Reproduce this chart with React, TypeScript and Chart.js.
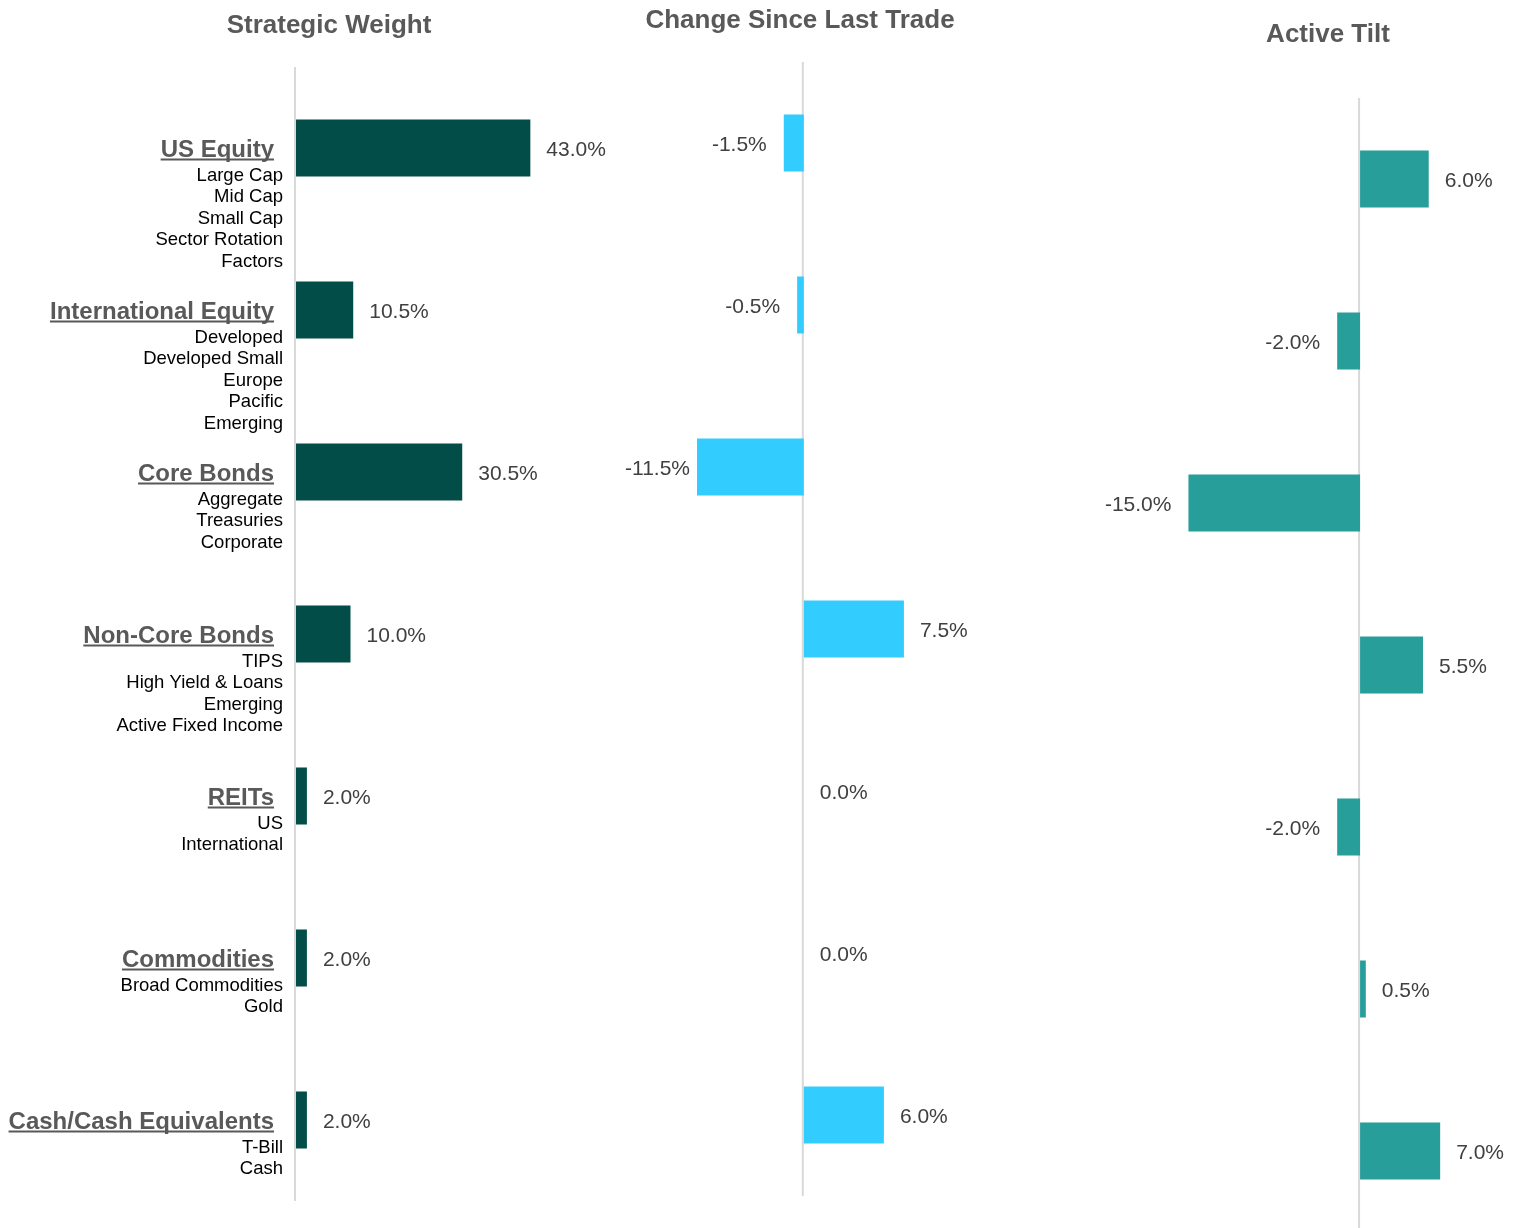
import React, { useEffect, useRef } from "react";
import { Chart, registerables } from "chart.js";

Chart.register(...registerables);

// ---------- DATA ----------
const categories = [
  "US Equity",
  "International Equity",
  "Core Bonds",
  "Non-Core Bonds",
  "REITs",
  "Commodities",
  "Cash/Cash Equivalents",
];

const subItems = [
  ["Large Cap", "Mid Cap", "Small Cap", "Sector Rotation", "Factors"],
  ["Developed", "Developed Small", "Europe", "Pacific", "Emerging"],
  ["Aggregate", "Treasuries", "Corporate"],
  ["TIPS", "High Yield & Loans", "Emerging", "Active Fixed Income"],
  ["US", "International"],
  ["Broad Commodities", "Gold"],
  ["T-Bill", "Cash"],
];

const strategicWeight = [43.0, 10.5, 30.5, 10.0, 2.0, 2.0, 2.0];
const changeSinceLastTrade = [-1.5, -0.5, -11.5, 7.5, 0.0, 0.0, 6.0];
const activeTilt = [6.0, -2.0, -15.0, 5.5, -2.0, 0.5, 7.0];

const panelTitles = ["Strategic Weight", "Change Since Last Trade", "Active Tilt"];

// ---------- STYLE / LAYOUT ----------
const FONT = "'Liberation Sans', Arial, Helvetica, sans-serif";
const W = 1520;
const H = 1228;

type Panel = {
  title: string;
  values: number[];
  color: string;
  min: number;
  max: number;
  canvasH: number;
  padding: { left: number; right: number; top: number; bottom: number };
  titleX: number;
  titleY: number;
  drawCategories: boolean;
};

const panels: Panel[] = [
  {
    title: panelTitles[0],
    values: strategicWeight,
    color: "#024D48",
    min: 0,
    max: 60,
    canvasH: H,
    padding: { left: 296, right: 897, top: 67, bottom: 27 },
    titleX: 329,
    titleY: 24,
    drawCategories: true,
  },
  {
    title: panelTitles[1],
    values: changeSinceLastTrade,
    color: "#33CCFF",
    min: -8,
    max: 12,
    canvasH: H,
    padding: { left: 697, right: 556, top: 62, bottom: 32 },
    titleX: 800,
    titleY: 19,
    drawCategories: false,
  },
  {
    title: panelTitles[2],
    values: activeTilt,
    color: "#289E9B",
    min: -16,
    max: 10,
    canvasH: 1240,
    padding: { left: 1177, right: 45.5, top: 98, bottom: 8 },
    titleX: 1328,
    titleY: 33,
    drawCategories: false,
  },
];

function makePlugin(panel: Panel) {
  return {
    id: "customDraw",
    beforeDatasetsDraw(chart: any) {
      const { ctx, chartArea } = chart;
      const x0 = chart.scales.x.getPixelForValue(0);
      ctx.save();
      ctx.strokeStyle = "#D9D9D9";
      ctx.lineWidth = 2;
      ctx.beginPath();
      ctx.moveTo(x0 - 1, chartArea.top);
      ctx.lineTo(x0 - 1, chartArea.bottom);
      ctx.stroke();
      ctx.restore();
    },
    afterDatasetsDraw(chart: any) {
      const { ctx, chartArea } = chart;
      const xs = chart.scales.x;
      const ys = chart.scales.y;
      const x0 = xs.getPixelForValue(0);
      ctx.save();
      // title
      ctx.font = `bold 26px ${FONT}`;
      ctx.fillStyle = "#595959";
      ctx.textAlign = "center";
      ctx.textBaseline = "alphabetic";
      ctx.fillText(panel.title, panel.titleX, panel.titleY + 9);

      // value labels
      const meta = chart.getDatasetMeta(0);
      ctx.font = `21px ${FONT}`;
      ctx.fillStyle = "#404040";
      meta.data.forEach((el: any, i: number) => {
        const v = panel.values[i];
        const y = ys.getPixelForValue(i);
        const txt = v.toFixed(1) + "%";
        if (v >= 0) {
          const xe = Math.min(Math.max(el.x, x0), chartArea.right);
          ctx.textAlign = "left";
          ctx.fillText(txt, xe + 16, y + 7.5);
        } else {
          ctx.textAlign = "right";
          const xe = el.x < chartArea.left ? chartArea.left - 7 : el.x - 17;
          ctx.fillText(txt, xe, y + 7.5);
        }
      });

      // category labels
      if (panel.drawCategories) {
        categories.forEach((cat, i) => {
          const y = ys.getPixelForValue(i);
          ctx.font = `bold 24px ${FONT}`;
          ctx.fillStyle = "#595959";
          ctx.textAlign = "right";
          const rx = 274;
          const base = y + 8.5;
          ctx.fillText(cat, rx, base);
          const w = ctx.measureText(cat).width;
          ctx.fillRect(rx - w, base + 2, w, 2);
          ctx.font = `18.5px ${FONT}`;
          ctx.fillStyle = "#000000";
          subItems[i].forEach((s, j) => {
            ctx.fillText(s, 283, y + 26 + 6.5 + j * 21.5);
          });
        });
      }
      ctx.restore();
    },
  };
}

function BarPanel({ panel }: { panel: Panel }) {
  const ref = useRef<HTMLCanvasElement | null>(null);
  useEffect(() => {
    if (!ref.current) return;
    const chart = new Chart(ref.current, {
      type: "bar",
      data: {
        labels: categories,
        datasets: [
          {
            data: panel.values,
            backgroundColor: panel.color,
            borderWidth: 0,
            barPercentage: 0.352,
            categoryPercentage: 1,
            clip: 0,
          } as any,
        ],
      },
      options: {
        indexAxis: "y",
        responsive: false,
        maintainAspectRatio: false,
        animation: false,
        layout: { padding: panel.padding },
        plugins: {
          legend: { display: false },
          tooltip: { enabled: false },
          title: { display: false },
        },
        scales: {
          x: { display: false, min: panel.min, max: panel.max },
          y: { display: false },
        },
      },
      plugins: [makePlugin(panel)],
    });
    return () => chart.destroy();
  }, [panel]);
  return (
    <canvas
      ref={ref}
      width={W}
      height={panel.canvasH}
      style={{ position: "absolute", left: 0, top: 0, width: W, height: panel.canvasH }}
    />
  );
}

export default function App() {
  return (
    <div
      style={{
        position: "fixed",
        left: 0,
        top: 0,
        width: W,
        height: H,
        overflow: "hidden",
        background: "#ffffff",
      }}
    >
      {panels.map((p, i) => (
        <BarPanel key={i} panel={p} />
      ))}
    </div>
  );
}
